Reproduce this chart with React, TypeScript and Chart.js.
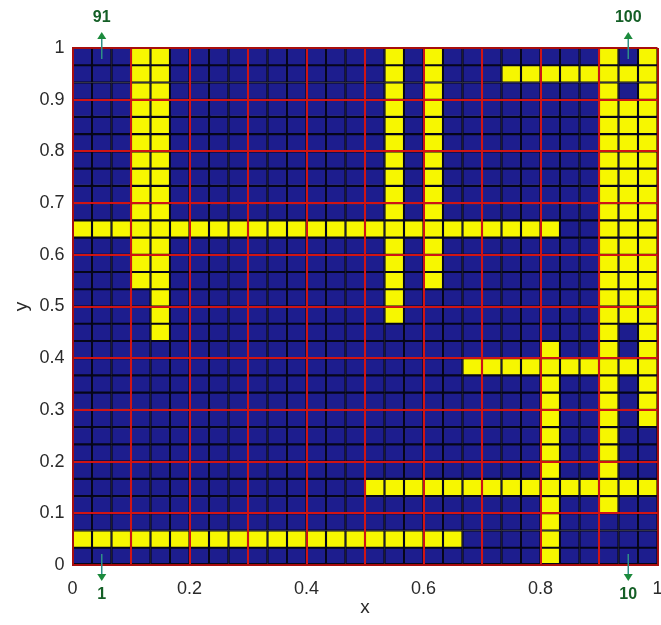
import React, { useEffect, useRef } from 'react';
import { Chart, registerables } from 'chart.js';

Chart.register(...registerables);

// ---- data ----
const cellCount = 30; // 30 x 30 small cells
const xTickLabels = ['0', '', '0.2', '', '0.4', '', '0.6', '', '0.8', '', '1'];
const yTickLabels = ['0', '0.1', '0.2', '0.3', '0.4', '0.5', '0.6', '0.7', '0.8', '0.9', '1'];

// vertical yellow runs (column index, first row, last row; row 0 = bottom)
const verticalCols = [3, 4, 16, 18, 24, 27, 28, 29];
const verticalFrom = [16, 13, 14, 16, 0, 3, 14, 8];
const verticalTo = [29, 29, 29, 29, 12, 29, 26, 29];

// horizontal yellow runs (row index, first column, last column)
const horizontalRows = [1, 4, 11, 19, 28];
const horizontalFrom = [0, 15, 20, 0, 22];
const horizontalTo = [19, 29, 29, 24, 29];

// numbered big squares marked with arrows
const markerLabels = ['1', '10', '91', '100'];
const markerX = [0.05, 0.95, 0.05, 0.95];
const markerY = [0, 0, 1, 1];

// ---- styles ----
const NAVY = '#1d1d8e';
const YELLOW = '#f7f700';
const CELL_BORDER = '#06061a';
const RED = '#d01414';
const FRAME = '#a80e0e';
const TEXT = '#2a2a2a';
const FONT = 'Liberation Sans';

function buildGrid(): boolean[][] {
  const g: boolean[][] = [];
  for (let r = 0; r < cellCount; r++) {
    g.push(new Array(cellCount).fill(false));
  }
  verticalCols.forEach((c, i) => {
    for (let r = verticalFrom[i]; r <= verticalTo[i]; r++) g[r][c] = true;
  });
  horizontalRows.forEach((r, i) => {
    for (let c = horizontalFrom[i]; c <= horizontalTo[i]; c++) g[r][c] = true;
  });
  return g;
}

const markerPlugin = {
  id: 'markers',
  afterDraw(chart: any) {
    const { ctx } = chart;
    const xs = chart.scales.x;
    const ys = chart.scales.y;
    ctx.save();
    markerLabels.forEach((label, i) => {
      const px = xs.getPixelForValue(markerX[i]);
      const edge = ys.getPixelForValue(markerY[i]);
      const dir = markerY[i] === 0 ? 1 : -1; // outward direction
      const tail = edge - dir * 11;
      const headBase = edge + dir * 9;
      const tip = edge + dir * 16;
      ctx.strokeStyle = '#2f8f86';
      ctx.lineWidth = 1.5;
      ctx.beginPath();
      ctx.moveTo(px, tail);
      ctx.lineTo(px, headBase);
      ctx.stroke();
      ctx.fillStyle = '#1b8a3c';
      ctx.beginPath();
      ctx.moveTo(px, tip);
      ctx.lineTo(px - 4.5, headBase);
      ctx.lineTo(px + 4.5, headBase);
      ctx.closePath();
      ctx.fill();
      ctx.fillStyle = '#145f26';
      ctx.font = `bold 16px "${FONT}"`;
      ctx.textAlign = 'center';
      ctx.textBaseline = 'middle';
      ctx.fillText(label, px, edge + dir * 30);
    });
    ctx.restore();
  },
};

export default function App() {
  const canvasRef = useRef<HTMLCanvasElement | null>(null);

  useEffect(() => {
    const canvas = canvasRef.current;
    if (!canvas) return;
    const grid = buildGrid();
    const cols = Array.from({ length: cellCount }, (_, c) => c);
    const datasets = Array.from({ length: cellCount }, (_, r) => ({
      label: `row ${r}`,
      data: cols.map((c) => ({ x: (c + 0.5) / cellCount, y: [r / cellCount, (r + 1) / cellCount] })),
      backgroundColor: cols.map((c) => (grid[r][c] ? YELLOW : NAVY)),
      borderColor: CELL_BORDER,
      borderWidth: 1.4,
      borderSkipped: false as const,
      grouped: false,
      categoryPercentage: 1,
      barPercentage: 1,
    }));

    const gridColor = (ctx: any) => {
      const v = ctx.tick ? ctx.tick.value : 0;
      return Math.abs(v) < 1e-9 || Math.abs(v - 1) < 1e-9 ? FRAME : RED;
    };

    const chart = new Chart(canvas, {
      type: 'bar',
      data: { datasets: datasets as any },
      plugins: [markerPlugin],
      options: {
        animation: false,
        responsive: false,
        devicePixelRatio: 1,
        layout: { padding: { top: 48, right: 3.5, left: 0, bottom: 0 }, autoPadding: false } as any,
        plugins: {
          legend: { display: false },
          tooltip: { enabled: false },
        },
        scales: {
          x: {
            type: 'linear',
            min: 0,
            max: 1,
            offset: false,
            grid: { color: gridColor, lineWidth: 2, drawTicks: false, offset: false, z: 1 },
            border: { color: FRAME, width: 2, z: 1 },
            ticks: {
              stepSize: 0.1,
              autoSkip: false,
              maxRotation: 0,
              padding: 13,
              color: TEXT,
              font: { size: 18, family: FONT },
              callback: (_v: any, i: number) => xTickLabels[i],
            },
            title: {
              display: true,
              text: 'x',
              color: TEXT,
              font: { size: 19, family: FONT },
              padding: { top: 0, bottom: 6 },
            },
            afterFit: (s: any) => {
              s.height = 60;
              s.paddingLeft = 0;
              s.paddingRight = 0;
            },
          },
          y: {
            type: 'linear',
            min: 0,
            max: 1,
            grid: { color: gridColor, lineWidth: 2, drawTicks: false, z: 1 },
            border: { color: FRAME, width: 2, z: 1 },
            ticks: {
              stepSize: 0.1,
              autoSkip: false,
              padding: 8,
              color: TEXT,
              font: { size: 18, family: FONT },
              callback: (_v: any, i: number) => yTickLabels[i],
            },
            title: {
              display: true,
              text: 'y',
              color: TEXT,
              font: { size: 19, family: FONT },
              padding: { top: 10, bottom: 0 },
            },
            afterFit: (s: any) => {
              s.width = 72.5;
              s.paddingTop = 0;
              s.paddingBottom = 0;
            },
          },
        },
      } as any,
    });
    return () => chart.destroy();
  }, []);

  return (
    <div style={{ position: 'absolute', left: 0, top: 0, width: 661, height: 625, background: '#fff' }}>
      <canvas ref={canvasRef} width={661} height={625} style={{ display: 'block', width: 661, height: 625 }} />
    </div>
  );
}
